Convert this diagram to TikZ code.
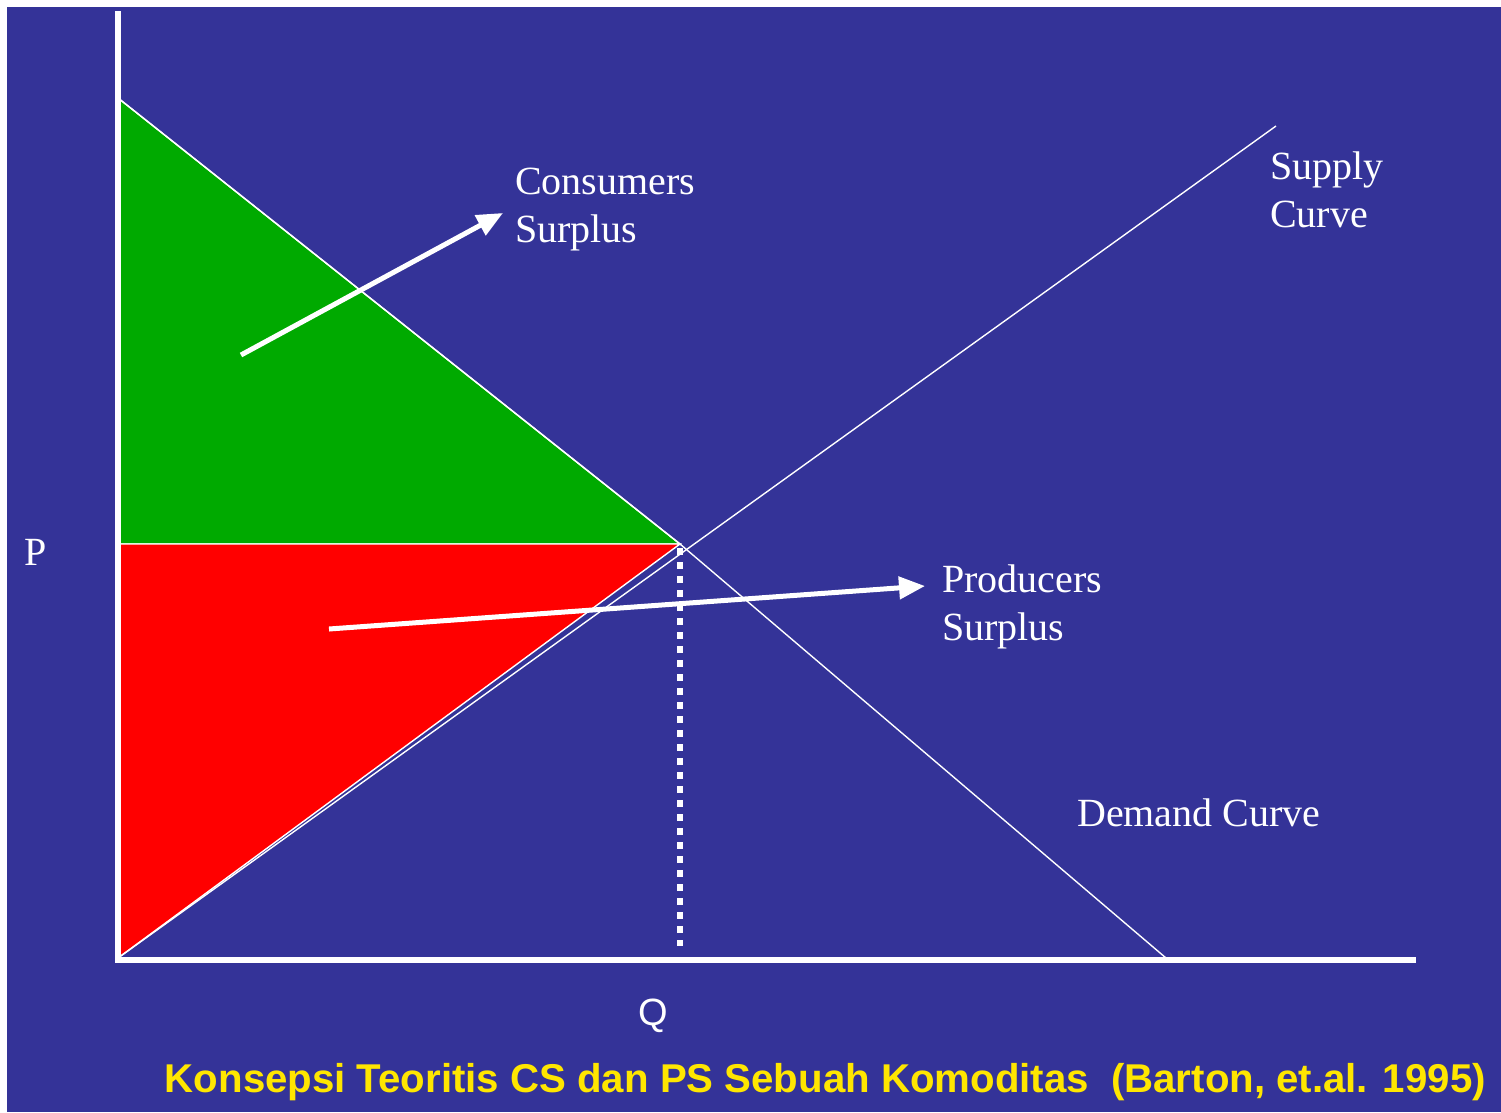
\documentclass[tikz,border=0pt]{standalone}
\usepackage{fontspec}
\setmainfont{Liberation Serif}
\newfontfamily\arialfont{Liberation Sans}
\usetikzlibrary{arrows.meta}
\definecolor{slideblue}{RGB}{52,51,152}
\definecolor{csgreen}{RGB}{0,170,0}
\definecolor{psred}{RGB}{255,0,0}
\definecolor{titleyellow}{RGB}{255,230,0}
\tikzset{
  axisline/.style={white, line width=6pt},
  curveline/.style={white, line width=1.4pt},
  pointer/.style={white, line width=5pt, -{Triangle[length=26pt,width=22pt]}},
  qline/.style={white, line width=6pt, dash pattern=on 7pt off 7pt},
  lbl/.style={text=white, font=\fontsize{40}{48}\selectfont, anchor=base west, inner sep=0pt, align=left},
}
\begin{document}
\begin{tikzpicture}[x=1pt, y=-1pt]
\useasboundingbox (0,0) rectangle (1501,1112);
\fill[white] (0,0) rectangle (1501,1112);
\fill[slideblue] (7,7) rectangle (1501,1112);

% key points of the chart
\coordinate (Ytop) at (118,11);
\coordinate (O) at (118,960);
\coordinate (Xend) at (1416,960);
\coordinate (Dstart) at (118,98);
\coordinate (Dend) at (1166,958);
\coordinate (Sstart) at (118,958);
\coordinate (Send) at (1276,126);
\coordinate (E) at (680,544);
\coordinate (Pe) at (118,544);
\coordinate (Qtop) at (680,548);
\coordinate (Qbot) at (680,946);

% surplus areas
\filldraw[fill=csgreen, draw=white, line width=1.4pt] (Dstart) -- (E) -- (Pe) -- cycle;
\filldraw[fill=psred, draw=white, line width=1.4pt] (Pe) -- (E) -- (Sstart) -- cycle;

% demand and supply curves
\draw[curveline] (Dstart) -- (E) -- (Dend);
\draw[curveline] (Sstart) -- (Send);

% equilibrium quantity
\draw[qline] (Qtop) -- (Qbot);

% axes
\draw[axisline] (Ytop) -- (O) -- (Xend);

% labels (base anchor sits on the last line)
\node[lbl] (cs) at (515,242) {Consumers\\Surplus};
\node[lbl] (ps) at (942,640) {Producers\\Surplus};
\node[lbl] (sc) at (1270,227) {Supply\\Curve};
\node[lbl] (dc) at (1077,826) {Demand Curve};
\node[lbl] (plabel) at (24,565) {P};
\node[text=white, font=\arialfont\fontsize{38}{44}\selectfont, anchor=base west, inner sep=0pt] (qlabel) at (638,1025) {Q};

% pointers to the labels
\coordinate (csfrom) at (241,355);
\coordinate (csto) at (503,213);
\coordinate (psfrom) at (329,629);
\coordinate (psto) at (925,586);
\draw[pointer] (csfrom) -- (csto);
\draw[pointer] (psfrom) -- (psto);

% caption
\node[text=titleyellow, font=\arialfont\bfseries\fontsize{40.2}{48}\selectfont, anchor=base east, inner sep=0pt] (title) at (1486,1092) {Konsepsi Teoritis CS dan PS Sebuah Komoditas\ \ (Barton, et.al. 1995)};
\end{tikzpicture}
\end{document}
